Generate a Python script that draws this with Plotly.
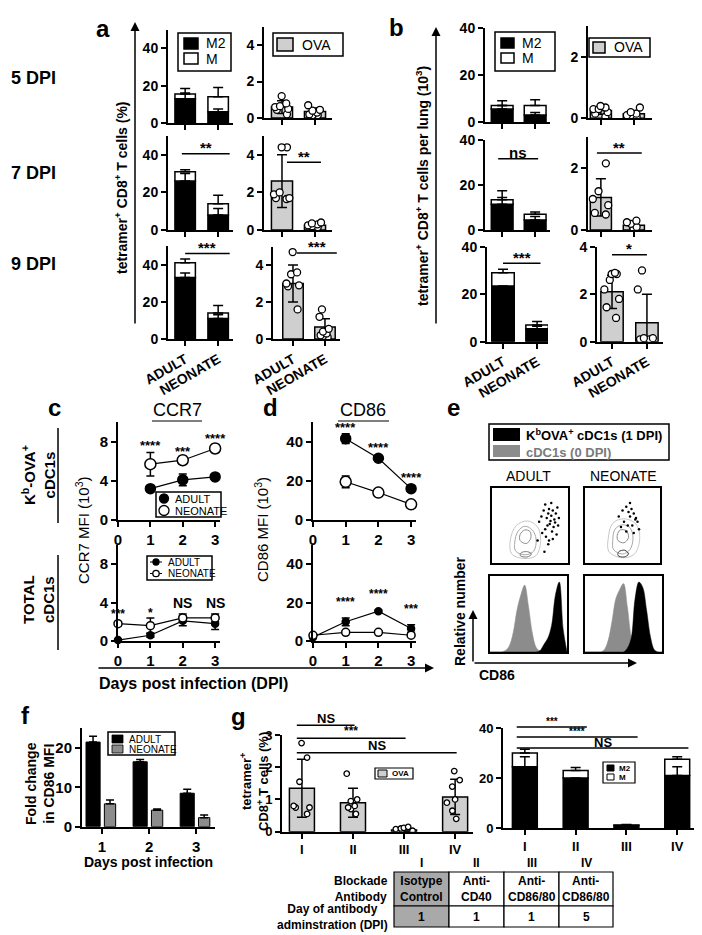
import plotly.graph_objects as go

# the page body adds an 8px margin, so the figure is drawn 8px smaller and all
# positions below are given in the reference picture's pixels
OFF = 8
FW, FH = 702 - OFF, 935 - OFF
FONT = "Liberation Sans, Arial, sans-serif"
OVA_GRAY = "#cfcfcf"

# ---------------- data ----------------
ab_groups = ["ADULT", "NEONATE"]
dpi_labels = ["5 DPI", "7 DPI", "9 DPI"]

# panel a: tetramer+ CD8+ T cells (%), rows = 5, 7, 9 DPI
a_m2 = [[13, 6], [26, 8], [33, 11]]
a_m2_err = [[3, 1.5], [4, 3.5], [2.5, 2]]
a_total = [[15.5, 14], [31, 14], [41, 14]]
a_total_err = [[3, 5], [1, 4.5], [2, 4]]
a_sig = [None, "**", "***"]
a_sig_level = [None, 40.5, 46]

a_ova_mean = [[0.6, 0.35], [2.6, 0.25], [3.0, 0.65]]
a_ova_sd = [[0.35, 0.2], [1.4, 0.12], [1.0, 0.45]]
a_ova_pts = [
    [[1.2, 0.8, 0.65, 0.6, 0.5, 0.45, 0.2], [0.7, 0.45, 0.4, 0.3, 0.2, 0.15, 0.15]],
    [[4.4, 4.4, 2.0, 1.9, 1.7, 1.7, 1.65], [0.4, 0.35, 0.3, 0.25, 0.2, 0.15]],
    [[4.7, 3.6, 3.5, 3.0, 2.9, 2.85, 1.6], [1.6, 1.2, 0.55, 0.4, 0.3, 0.2, 0.15, 0.1]],
]
a_ova_sig = [None, "**", "***"]
a_ova_sig_level = [None, 3.6, 4.65]

# panel b: tetramer+ CD8+ T cells per lung (10^3)
b_m2 = [[5.5, 3], [11.5, 4.5], [23.5, 5.5]]
b_m2_err = [[1.5, 1], [3, 1.5], [0, 1]]
b_total = [[7, 7], [13.5, 7], [29, 7]]
b_total_err = [[2, 2.5], [4, 1], [1.5, 1.5]]
b_sig = [None, "ns", "***"]
b_sig_level = [None, 31.7, 33]

b_ova_mean = [[0.25, 0.15], [1.05, 0.15], [2.1, 0.8]]
b_ova_sd = [[0.12, 0.1], [0.6, 0.1], [0.7, 1.2]]
b_ova_pts = [
    [[0.4, 0.35, 0.3, 0.3, 0.2, 0.15, 0.05], [0.35, 0.2, 0.15, 0.1, 0.1, 0.05]],
    [[2.15, 1.25, 1.0, 0.8, 0.55, 0.5], [0.3, 0.25, 0.2, 0.1, 0.05]],
    [[2.9, 2.85, 2.85, 2.6, 2.2, 1.8, 1.45, 1.0], [3.0, 2.2, 0.15, 0.1, 0.1, 0.1, 0.15]],
]
b_ova_sig = [None, "**", "*"]
b_ova_sig_level = [None, 2.48, 3.66]

# panel c: CCR7 MFI (10^3)
days_top = [1, 2, 3]
days_all = [0, 1, 2, 3]
c_top_adult = [3.2, 4.1, 4.4]
c_top_adult_err = [0.3, 0.6, 0.3]
c_top_neo = [5.7, 6.1, 7.3]
c_top_neo_err = [1.2, 0.4, 0.4]
c_top_sig = ["****", "***", "****"]
c_top_sig_level = [7.6, 7.0, 8.3]
c_bot_adult = [0.1, 0.6, 2.1, 1.8]
c_bot_adult_err = [0.1, 0.2, 0.5, 0.6]
c_bot_neo = [1.8, 1.6, 2.4, 2.4]
c_bot_neo_err = [0.2, 0.8, 0.4, 0.4]
c_bot_sig = ["***", "*", "NS", "NS"]
c_bot_sig_level = [2.8, 2.9, 4.0, 4.0]

# panel d: CD86 MFI (10^3)
d_top_adult = [41.5, 31.5, 16]
d_top_adult_err = [2.5, 1, 1]
d_top_neo = [19.5, 14, 8]
d_top_neo_err = [3, 1, 1]
d_top_sig = ["****", "****", "****"]
d_top_sig_level = [47, 37, 21.5]
d_bot_adult = [2, 10, 15.5, 6.5]
d_bot_adult_err = [0.5, 2, 0.5, 2]
d_bot_neo = [3, 4.5, 4.5, 3]
d_bot_neo_err = [0.5, 0.5, 0.5, 0.5]
d_bot_sig = [None, "****", "****", "***"]
d_bot_sig_level = [None, 20.5, 24.5, 16.5]

# panel e: flow plots (box units 0..1)
e_adult_loops_x = [
    [0.26, 0.42, 0.58, 0.64, 0.6, 0.47, 0.32, 0.24],
    [0.31, 0.44, 0.55, 0.58, 0.53, 0.43, 0.34, 0.3],
    [0.37, 0.45, 0.51, 0.5, 0.43, 0.37],
    [0.37, 0.46, 0.52, 0.47, 0.39],
]
e_adult_loops_y = [
    [0.12, 0.06, 0.1, 0.3, 0.48, 0.56, 0.5, 0.3],
    [0.16, 0.11, 0.16, 0.32, 0.44, 0.49, 0.42, 0.28],
    [0.3, 0.26, 0.33, 0.42, 0.44, 0.38],
    [0.1, 0.08, 0.12, 0.15, 0.14],
]
e_neo_loops_x = [
    [0.32, 0.5, 0.66, 0.73, 0.68, 0.52, 0.37, 0.31],
    [0.38, 0.5, 0.6, 0.64, 0.6, 0.5, 0.4, 0.37],
    [0.44, 0.52, 0.58, 0.55, 0.47, 0.43],
    [0.44, 0.52, 0.58, 0.53, 0.45],
]
e_neo_loops_y = [
    [0.15, 0.07, 0.12, 0.34, 0.52, 0.59, 0.53, 0.33],
    [0.18, 0.12, 0.18, 0.33, 0.47, 0.51, 0.45, 0.3],
    [0.3, 0.27, 0.34, 0.43, 0.44, 0.37],
    [0.1, 0.08, 0.12, 0.17, 0.15],
]
e_adult_dots_x = [0.62, 0.65, 0.68, 0.7, 0.72, 0.74, 0.75, 0.76, 0.78, 0.8, 0.82, 0.84, 0.86, 0.88, 0.7,
                  0.73, 0.77, 0.79, 0.81, 0.83, 0.85, 0.66, 0.71, 0.75, 0.8, 0.78, 0.6, 0.69, 0.74, 0.87]
e_adult_dots_y = [0.55, 0.62, 0.7, 0.78, 0.6, 0.66, 0.72, 0.52, 0.63, 0.7, 0.58, 0.66, 0.74, 0.6, 0.45,
                  0.5, 0.56, 0.42, 0.48, 0.54, 0.38, 0.4, 0.35, 0.3, 0.32, 0.8, 0.3, 0.15, 0.25, 0.5]
e_neo_dots_x = [0.45, 0.5, 0.55, 0.58, 0.6, 0.62, 0.65, 0.68, 0.7, 0.52, 0.57, 0.63, 0.67, 0.72, 0.48, 0.6, 0.55, 0.65]
e_neo_dots_y = [0.62, 0.7, 0.75, 0.68, 0.62, 0.72, 0.66, 0.6, 0.55, 0.55, 0.5, 0.5, 0.58, 0.45, 0.48, 0.8, 0.42, 0.4]

e_bins = [0, 0.05, 0.1, 0.15, 0.2, 0.25, 0.3, 0.35, 0.4, 0.45, 0.5, 0.55, 0.6, 0.65, 0.7, 0.75, 0.8, 0.85, 0.9, 0.95, 1.0]
e_adult_gray = [0, 0, 0, 0, 0.02, 0.08, 0.25, 0.55, 0.75, 0.88, 0.6, 0.25, 0.06, 0.01, 0, 0, 0, 0, 0, 0, 0]
e_adult_black = [0, 0, 0, 0, 0, 0, 0, 0, 0, 0, 0, 0, 0, 0.02, 0.1, 0.18, 0.35, 0.75, 0.92, 0.3, 0]
e_neo_gray = [0, 0, 0, 0, 0, 0.03, 0.15, 0.4, 0.7, 0.82, 0.9, 0.6, 0.2, 0.03, 0, 0, 0, 0, 0, 0, 0]
e_neo_black = [0, 0, 0, 0, 0, 0, 0, 0, 0, 0, 0, 0.05, 0.18, 0.7, 0.92, 0.85, 0.55, 0.2, 0.03, 0, 0]

# panel f: fold change in CD86 MFI
f_days = [1, 2, 3]
f_adult = [21.5, 16.5, 8.5]
f_adult_err = [1.5, 0.6, 1.0]
f_neo = [5.8, 4.2, 2.3]
f_neo_err = [1.0, 0.3, 0.7]

# panel g: blockade
g_groups = ["I", "II", "III", "IV"]
g_ova_mean = [1.35, 0.9, 0.05, 1.08]
g_ova_sd = [0.9, 0.45, 0.04, 0.55]
g_ova_pts = [[2.75, 2.3, 1.55, 0.8, 0.75, 0.75, 0.55], [1.8, 1.0, 0.95, 0.8, 0.75, 0.7, 0.55],
             [0.15, 0.12, 0.1, 0.08, 0.05, 0.03, 0.02], [1.88, 1.6, 1.4, 1.0, 0.9, 0.65, 0.4]]
g_ova_sig = ["NS", "***", "NS"]
g_ova_sig_to = [1, 2, 3]
g_ova_sig_level = [3.3, 2.9, 2.45]
g_m2 = [24.5, 20, 1.0, 21]
g_m2_err = [4, 0, 0, 3.5]
g_total = [30, 23, 1.2, 27.5]
g_total_err = [1.5, 1.2, 0.2, 1]
g_sig = ["***", "****", "NS"]
g_sig_to = [1, 2, 3]
g_sig_level = [40.4, 36.4, 32]

tbl_cols = ["I", "II", "III", "IV"]
tbl_antibody = ["Isotype<br>Control", "Anti-<br>CD40", "Anti-<br>CD86/80", "Anti-<br>CD86/80"]
tbl_day = ["1", "1", "1", "5"]
tbl_rows = ["Blockade<br>Antibody", "Day of antibody<br>adminstration (DPI)"]

# ---------------- helpers ----------------
fig = go.Figure()
layout = {}
shapes = []
annots = []
counter = [0]


def fx(x):
    return (x - OFF) / FW


def fy(y):
    return 1 - (y - OFF) / FH


def make_axes(x0, x1, ytop, ybot, xr, yr, xt=None, xtt=None, yt=None, xlabels=False,
              size=14, xangle=0, mirror=False, ticks=True):
    counter[0] += 1
    n = counter[0]
    xs = "x" if n == 1 else f"x{n}"
    ys = "y" if n == 1 else f"y{n}"
    common = dict(showline=True, linecolor="black", linewidth=2, showgrid=False, zeroline=False,
                  ticks="outside" if ticks else "", ticklen=5, tickwidth=2, tickcolor="black",
                  tickfont=dict(family=FONT, size=size, color="black", weight="bold"),
                  mirror=mirror, fixedrange=True, tickmode="array", automargin=False)
    layout["xaxis" if n == 1 else f"xaxis{n}"] = dict(
        common, domain=[fx(x0), fx(x1)], range=xr, anchor=ys, tickvals=xt or [],
        ticktext=xtt, showticklabels=xlabels, tickangle=xangle)
    layout["yaxis" if n == 1 else f"yaxis{n}"] = dict(
        common, domain=[fy(ybot), fy(ytop)], range=yr, anchor=xs, tickvals=yt or [],
        showticklabels=yt is not None)
    return dict(xa=xs, ya=ys, x0=x0, x1=x1, ytop=ytop, ybot=ybot, xr=xr, yr=yr)


def PX(ax, v):
    return ax["x0"] + (v - ax["xr"][0]) / (ax["xr"][1] - ax["xr"][0]) * (ax["x1"] - ax["x0"])


def PY(ax, v):
    return ax["ybot"] - (v - ax["yr"][0]) / (ax["yr"][1] - ax["yr"][0]) * (ax["ybot"] - ax["ytop"])


def text(x, y, s, size=14, bold=True, color="black", xanchor="center", yanchor="middle", angle=0):
    annots.append(dict(x=fx(x), y=fy(y), xref="paper", yref="paper", text=s, showarrow=False,
                       font=dict(family=FONT, size=size, color=color, weight="bold" if bold else "normal"),
                       xanchor=xanchor, yanchor=yanchor, textangle=angle))


def rect(x0, y0, x1, y1, fill="white", lw=1.5, line="black"):
    shapes.append(dict(type="rect", xref="paper", yref="paper", x0=fx(x0), x1=fx(x1),
                       y0=fy(y1), y1=fy(y0), fillcolor=fill, line=dict(color=line, width=lw)))


def seg(x0, y0, x1, y1, lw=1.5):
    shapes.append(dict(type="line", xref="paper", yref="paper", x0=fx(x0), x1=fx(x1),
                       y0=fy(y0), y1=fy(y1), line=dict(color="black", width=lw)))


def circ(cx, cy, r, fill):
    shapes.append(dict(type="circle", xref="paper", yref="paper", x0=fx(cx - r), x1=fx(cx + r),
                       y0=fy(cy + r), y1=fy(cy - r), fillcolor=fill,
                       line=dict(color="black", width=1.3)))


def arrow(x0, y0, x1, y1):
    annots.append(dict(x=fx(x1), y=fy(y1), xref="paper", yref="paper", ax=x0 - x1, ay=y0 - y1,
                       axref="pixel", ayref="pixel", text="", showarrow=True, arrowhead=2,
                       arrowsize=1.2, arrowwidth=1.5, arrowcolor="black"))


def sig(ax, xa, xb, level, label, size=14, gap=6):
    y = PY(ax, level)
    seg(PX(ax, xa), y, PX(ax, xb), y, lw=1.5)
    text((PX(ax, xa) + PX(ax, xb)) / 2, y - gap, label, size=size)


def err_trace(ax, xs, ys, up):
    fig.add_trace(go.Scatter(
        x=xs, y=ys, mode="markers", marker=dict(size=1, color="rgba(0,0,0,0)"),
        error_y=dict(type="data", symmetric=False, array=up, arrayminus=[0] * len(up),
                     color="black", thickness=1.5, width=5),
        xaxis=ax["xa"], yaxis=ax["ya"], hoverinfo="skip", cliponaxis=False))


def stacked(ax, m2, m2_err, total, total_err, width):
    xs = list(range(len(m2)))
    fig.add_trace(go.Bar(x=xs, y=m2, width=width, marker=dict(color="black", line=dict(color="black", width=1.5)),
                         xaxis=ax["xa"], yaxis=ax["ya"]))
    fig.add_trace(go.Bar(x=xs, y=[t - m for t, m in zip(total, m2)], base=m2, width=width,
                         marker=dict(color="white", line=dict(color="black", width=1.5)),
                         xaxis=ax["xa"], yaxis=ax["ya"]))
    err_trace(ax, xs, m2, m2_err)
    err_trace(ax, xs, total, total_err)


def dots_bar(ax, mean, sd, pts, width, msize=7, jitter=0.9):
    xs = list(range(len(mean)))
    fig.add_trace(go.Bar(x=xs, y=mean, width=width,
                         marker=dict(color=OVA_GRAY, line=dict(color="black", width=1.5)),
                         error_y=dict(type="data", array=sd, color="black", thickness=1.5, width=5),
                         xaxis=ax["xa"], yaxis=ax["ya"]))
    bx, by = [], []
    for x, p in zip(xs, pts):
        bx += [x] * len(p)
        by += p
    fig.add_trace(go.Box(x=bx, y=by, boxpoints="all", jitter=jitter, pointpos=0, width=width,
                         fillcolor="rgba(0,0,0,0)", line=dict(width=0, color="rgba(0,0,0,0)"),
                         marker=dict(size=msize, color="white", line=dict(color="black", width=1.3)),
                         xaxis=ax["xa"], yaxis=ax["ya"], hoverinfo="skip"))


def lines(ax, days, vals, errs, filled, msize):
    fig.add_trace(go.Scatter(
        x=days, y=vals, mode="lines+markers", line=dict(color="black", width=1.2),
        marker=dict(size=msize, color="black" if filled else "white", line=dict(color="black", width=1.5)),
        error_y=dict(type="data", array=errs, color="black", thickness=1.5, width=4),
        xaxis=ax["xa"], yaxis=ax["ya"], cliponaxis=False))


# ---------------- panel a / b ----------------
a_left_box = [(168, 233, 29.5, 123, [-0.52, 1.45]), (168, 233, 136, 230, [-0.52, 1.45]),
              (168, 233, 246, 339, [-0.52, 1.45])]
a_right_box = [(264, 332, 26.75, 118, [-0.545, 1.515]), (264, 332, 136, 230, [-0.545, 1.515]),
               (273, 340, 246.5, 339, [-0.625, 1.47])]
b_left_box = [(485, 550, 28, 122, [-0.52, 1.45]), (485, 550, 140, 230, [-0.52, 1.45]),
              (487, 548, 246.7, 341.7, [-0.47, 1.32])]
b_right_box = [(588, 652, 25.9, 118.3, [-0.39, 1.55]), (588, 652, 137, 230, [-0.39, 1.55]),
               (597, 663, 246.7, 341.7, [-0.43, 1.46])]
a_sig_span = [None, (-0.1, 1.35), (0, 1.35)]
a_ova_span = [None, (0.15, 1.18), (0.12, 1.37)]
b_sig_span = [None, (-0.12, 1.09), (0, 1.1)]
b_ova_span = [None, (-0.12, 1.24), (0, 1.0)]

for i in range(3):
    last = i == 2
    x0, x1, yt_, yb_, xr = a_left_box[i]
    ax = make_axes(x0, x1, yt_, yb_, xr, [0, 50], xt=[0, 1], xtt=ab_groups, yt=[0, 20, 40],
                   xlabels=last, xangle=-30)
    stacked(ax, a_m2[i], a_m2_err[i], a_total[i], a_total_err[i], 0.62)
    if a_sig[i]:
        sig(ax, *a_sig_span[i], a_sig_level[i], a_sig[i], size=15)

    x0, x1, yt_, yb_, xr = a_right_box[i]
    ax = make_axes(x0, x1, yt_, yb_, xr, [0, 5], xt=[0, 1], xtt=ab_groups, yt=[0, 2, 4],
                   xlabels=last, xangle=-30)
    dots_bar(ax, a_ova_mean[i], a_ova_sd[i], a_ova_pts[i], 0.64)
    if a_ova_sig[i]:
        sig(ax, *a_ova_span[i], a_ova_sig_level[i], a_ova_sig[i], size=15)

    x0, x1, yt_, yb_, xr = b_left_box[i]
    ax = make_axes(x0, x1, yt_, yb_, xr, [0, 40], xt=[0, 1], xtt=ab_groups, yt=[0, 20, 40],
                   xlabels=last, xangle=-30)
    stacked(ax, b_m2[i], b_m2_err[i], b_total[i], b_total_err[i], 0.66)
    if b_sig[i]:
        sig(ax, *b_sig_span[i], b_sig_level[i], b_sig[i], size=15)

    x0, x1, yt_, yb_, xr = b_right_box[i]
    b_yr = [0, 4] if last else [0, 3]
    b_yt = [0, 2, 4] if last else [0, 2]
    ax = make_axes(x0, x1, yt_, yb_, xr, b_yr, xt=[0, 1], xtt=ab_groups, yt=b_yt,
                   xlabels=last, xangle=-30)
    dots_bar(ax, b_ova_mean[i], b_ova_sd[i], b_ova_pts[i], 0.64)
    if b_ova_sig[i]:
        sig(ax, *b_ova_span[i], b_ova_sig_level[i], b_ova_sig[i], size=15)

# a/b legends
rect(178, 33, 231, 71)
rect(184, 38, 198, 49, fill="black")
rect(184, 53, 198, 64, fill="white")
text(204, 43.5, "M2", 14, bold=False, xanchor="left")
text(204, 58.5, "M", 14, bold=False, xanchor="left")
rect(273, 33, 343, 56)
rect(277, 38, 293, 51, fill=OVA_GRAY)
text(300, 45, "OVA", 14, bold=False, xanchor="left")
rect(495, 32, 555, 71)
rect(501, 38, 514, 48, fill="black")
rect(501, 53, 514, 63, fill="white")
text(520, 43, "M2", 14, bold=False, xanchor="left")
text(520, 58, "M", 14, bold=False, xanchor="left")
rect(589, 38, 650, 57)
rect(593, 42, 605, 53, fill=OVA_GRAY)
text(612, 47.5, "OVA", 14, bold=False, xanchor="left")

text(103, 28, "a", 24)
text(397, 27, "b", 24)
for lbl, yy in zip(dpi_labels, [78, 173, 264]):
    text(9, yy, lbl, 18, xanchor="left")
arrow(135, 325, 135, 22)
arrow(436, 325, 436, 27)
text(121, 188, "tetramer<sup>+</sup> CD8<sup>+</sup> T cells (%)", 14, angle=-90)
text(422, 186, "tetramer<sup>+</sup> CD8<sup>+</sup> T cells per lung (10<sup>3</sup>)", 14, angle=-90)

# ---------------- panel c / d ----------------
ct = make_axes(118, 220, 422, 520, [0, 3.15], [0, 10], xt=days_all, yt=[0, 4, 8], xlabels=True, size=15)
lines(ct, days_top, c_top_adult, c_top_adult_err, True, 10)
lines(ct, days_top, c_top_neo, c_top_neo_err, False, 11)
for d, s, lv in zip(days_top, c_top_sig, c_top_sig_level):
    text(PX(ct, d), PY(ct, lv), s, 13)

cb = make_axes(118, 220, 545, 641, [0, 3.15], [0, 10], xt=days_all, yt=[0, 4, 8], xlabels=True, size=15)
lines(cb, days_all, c_bot_adult, c_bot_adult_err, True, 7)
lines(cb, days_all, c_bot_neo, c_bot_neo_err, False, 8)
for d, s, lv in zip(days_all, c_bot_sig, c_bot_sig_level):
    text(PX(cb, d), PY(cb, lv), s, 14 if s == "NS" else 12)

dt = make_axes(313, 416, 422, 520, [0, 3.15], [0, 50], xt=days_all, yt=[0, 20, 40], xlabels=True, size=15)
lines(dt, days_top, d_top_adult, d_top_adult_err, True, 10)
lines(dt, days_top, d_top_neo, d_top_neo_err, False, 11)
for d, s, lv in zip(days_top, d_top_sig, d_top_sig_level):
    text(PX(dt, d), PY(dt, lv), s, 13)

db = make_axes(313, 416, 545, 641, [0, 3.15], [0, 50], xt=days_all, yt=[0, 20, 40], xlabels=True, size=15)
lines(db, days_all, d_bot_adult, d_bot_adult_err, True, 7)
lines(db, days_all, d_bot_neo, d_bot_neo_err, False, 8)
for d, s, lv in zip(days_all, d_bot_sig, d_bot_sig_level):
    if s:
        text(PX(db, d), PY(db, lv), s, 12)

text(55, 407, "c", 24)
text(270, 407, "d", 24)
text(177, 410, "CCR7", 18, bold=False)
seg(152, 421, 202, 421, lw=1.2)
text(363, 410, "CD86", 18, bold=False)
seg(338, 421, 389, 421, lw=1.2)
text(38, 475, "K<sup>b</sup>-OVA<sup>+</sup><br>cDC1s", 15, angle=-90)
seg(58, 428, 58, 523, lw=1.5)
text(38, 600, "TOTAL<br>cDC1s", 15, angle=-90)
seg(58, 555, 58, 650, lw=1.5)
text(82, 530, "CCR7 MFI (10<sup>3</sup>)", 15, bold=False, angle=-90)
text(261, 530, "CD86 MFI (10<sup>3</sup>)", 15, bold=False, angle=-90)
arrow(97, 668, 434, 668)
text(97, 683, "Days post infection (DPI)", 16, xanchor="left")

# c legends
rect(156, 492, 221, 517, lw=1.5)
circ(164, 498.5, 4.5, "black")
circ(164, 510.5, 5, "white")
text(173, 498.5, "ADULT", 11, bold=False, xanchor="left")
text(173, 510.5, "NEONATE", 11, bold=False, xanchor="left")
rect(147, 556, 212, 580, lw=1.5)
seg(150, 562, 162, 562, lw=1)
circ(156, 562, 3, "black")
seg(150, 573.5, 162, 573.5, lw=1)
circ(156, 573.5, 3.2, "white")
text(166, 562, "ADULT", 10, bold=False, xanchor="left")
text(166, 573.5, "NEONATE", 10, bold=False, xanchor="left")

# ---------------- panel e ----------------
loop_shades = ["#c8c8c8", "#a8a8a8", "#8c8c8c", "#707070"]
for box, lx, ly, dx, dy, dark in [
    ((492, 568, 488, 563), e_adult_loops_x, e_adult_loops_y, e_adult_dots_x, e_adult_dots_y, "#7a7a7a"),
    ((585, 660, 488, 563), e_neo_loops_x, e_neo_loops_y, e_neo_dots_x, e_neo_dots_y, "#404040"),
]:
    ax = make_axes(box[0], box[1], box[2], box[3], [0, 1], [0, 1], mirror=True, ticks=False)
    for k, (xx, yy) in enumerate(zip(lx, ly)):
        col = dark if k == len(lx) - 1 else loop_shades[k]
        fig.add_trace(go.Scatter(x=xx + [xx[0]], y=yy + [yy[0]], mode="lines",
                                 line=dict(color=col, width=1, shape="spline"),
                                 xaxis=ax["xa"], yaxis=ax["ya"], hoverinfo="skip"))
    fig.add_trace(go.Scatter(x=dx, y=dy, mode="markers", marker=dict(size=2.5, color="black"),
                             xaxis=ax["xa"], yaxis=ax["ya"], hoverinfo="skip"))

for box, gray, black in [((490, 567, 576, 652), e_adult_gray, e_adult_black),
                         ((585, 662, 576, 652), e_neo_gray, e_neo_black)]:
    ax = make_axes(box[0], box[1], box[2], box[3], [0, 1], [0, 1], mirror=True, ticks=False)
    fig.add_trace(go.Scatter(x=e_bins, y=gray, mode="lines", fill="tozeroy", fillcolor="#8c8c8c",
                             line=dict(color="#8c8c8c", width=0.5, shape="spline"),
                             xaxis=ax["xa"], yaxis=ax["ya"], hoverinfo="skip"))
    fig.add_trace(go.Scatter(x=e_bins, y=black, mode="lines", fill="tozeroy", fillcolor="black",
                             line=dict(color="black", width=0.5, shape="spline"),
                             xaxis=ax["xa"], yaxis=ax["ya"], hoverinfo="skip"))

text(453, 407, "e", 24)
rect(489, 424, 669, 460, lw=1.5)
rect(493, 428, 520, 441, fill="black", lw=0)
rect(493, 445, 520, 457, fill="#8c8c8c", lw=0)
text(524, 435, "K<sup>b</sup>OVA<sup>+</sup> cDC1s (1 DPI)", 13, xanchor="left")
text(524, 452, "cDC1s (0 DPI)", 13, color="#7a7a7a", xanchor="left")
text(528, 476, "ADULT", 14, bold=False)
text(623, 476, "NEONATE", 14, bold=False)
arrow(473, 663, 473, 610)
arrow(473, 663, 637, 663)
text(460, 612, "Relative number", 14, angle=-90)
text(477, 675, "CD86", 14, xanchor="left")

# ---------------- panel f ----------------
fa = make_axes(82, 215, 728.3, 826.7, [0.575, 3.4], [0, 25], xt=f_days, yt=[0, 10, 20], xlabels=True, size=15)
fig.add_trace(go.Bar(x=f_days, y=f_adult, width=0.3, offset=-0.34,
                     marker=dict(color="black", line=dict(color="black", width=1)),
                     error_y=dict(type="data", array=f_adult_err, arrayminus=[0] * 3, symmetric=False,
                                  color="black", thickness=1.5, width=4),
                     xaxis=fa["xa"], yaxis=fa["ya"]))
fig.add_trace(go.Bar(x=f_days, y=f_neo, width=0.24, offset=0.05,
                     marker=dict(color="#8c8c8c", line=dict(color="black", width=1)),
                     error_y=dict(type="data", array=f_neo_err, arrayminus=[0] * 3, symmetric=False,
                                  color="black", thickness=1.5, width=4),
                     xaxis=fa["xa"], yaxis=fa["ya"]))
text(25, 715, "f", 24)
rect(108, 732, 175, 755, lw=1.5)
rect(112, 735, 123, 743, fill="black", lw=0.8)
rect(112, 745, 123, 753, fill="#8c8c8c", lw=0.8)
text(127, 739, "ADULT", 10, bold=False, xanchor="left")
text(127, 749.5, "NEONATE", 10, bold=False, xanchor="left")
text(40, 783, "Fold change<br>in CD86 MFI", 14, angle=-90)
text(148, 862, "Days post infection", 14)

# ---------------- panel g ----------------
gl = make_axes(282, 473, 735, 831.7, [-0.39, 3.35], [0, 3], xt=[0, 1, 2, 3], xtt=g_groups,
               yt=[0, 1, 2, 3], xlabels=True, size=13)
dots_bar(gl, g_ova_mean, g_ova_sd, g_ova_pts, 0.49, msize=5.5, jitter=0.8)
for s, to, lv in zip(g_ova_sig, g_ova_sig_to, g_ova_sig_level):
    sig(gl, -0.1, to + 0.03, lv, s, size=12 if s != "NS" else 13, gap=7)

gr = make_axes(503, 695, 728, 828, [-0.43, 3.35], [0, 40], xt=[0, 1, 2, 3], xtt=g_groups,
               yt=[0, 20, 40], xlabels=True, size=13)
stacked(gr, g_m2, g_m2_err, g_total, g_total_err, 0.49)
for s, to, lv in zip(g_sig, g_sig_to, g_sig_level):
    sig(gr, -0.16, to + 0.22, lv, s, size=10 if s != "NS" else 13, gap=6)

text(238, 716, "g", 24)
text(254, 782, "tetramer<sup>+</sup><br>CD8<sup>+</sup> T cells (%)", 13, angle=-90)
rect(375, 768, 413, 779, lw=1.2)
rect(378, 770, 387, 777, fill=OVA_GRAY, lw=1)
text(390, 773.5, "OVA", 8, xanchor="left")
rect(603, 762, 635, 783, lw=1.2)
rect(607, 765, 614, 771, fill="black", lw=1)
rect(607, 774, 614, 780, fill="white", lw=1)
text(617, 768, "M2", 8, xanchor="left")
text(617, 777, "M", 8, xanchor="left")

# table
col_x = [394, 449, 504, 559, 613]
row_y = [872, 906, 927]
for j in range(4):
    fill = "#a9a9a9" if j == 0 else "white"
    rect(col_x[j], row_y[0], col_x[j + 1], row_y[1], fill=fill, lw=1.2)
    rect(col_x[j], row_y[1], col_x[j + 1], row_y[2], fill=fill, lw=1.2)
    cx = (col_x[j] + col_x[j + 1]) / 2
    text(cx, 863, tbl_cols[j], 12)
    text(cx, 889, tbl_antibody[j], 12)
    text(cx, 916.5, tbl_day[j], 12)
text(390, 889, tbl_rows[0], 12, xanchor="right")
text(390, 916.5, tbl_rows[1], 12, xanchor="right")

layout.update(
    width=FW, height=FH, autosize=False, margin=dict(l=0, r=0, t=0, b=0, pad=0),
    paper_bgcolor="white", plot_bgcolor="white", showlegend=False, hovermode=False,
    barmode="overlay", boxmode="overlay", shapes=shapes, annotations=annots,
    font=dict(family=FONT, color="black"), template="none",
)
fig.update_layout(**layout)
fig.write_html("out.html")
